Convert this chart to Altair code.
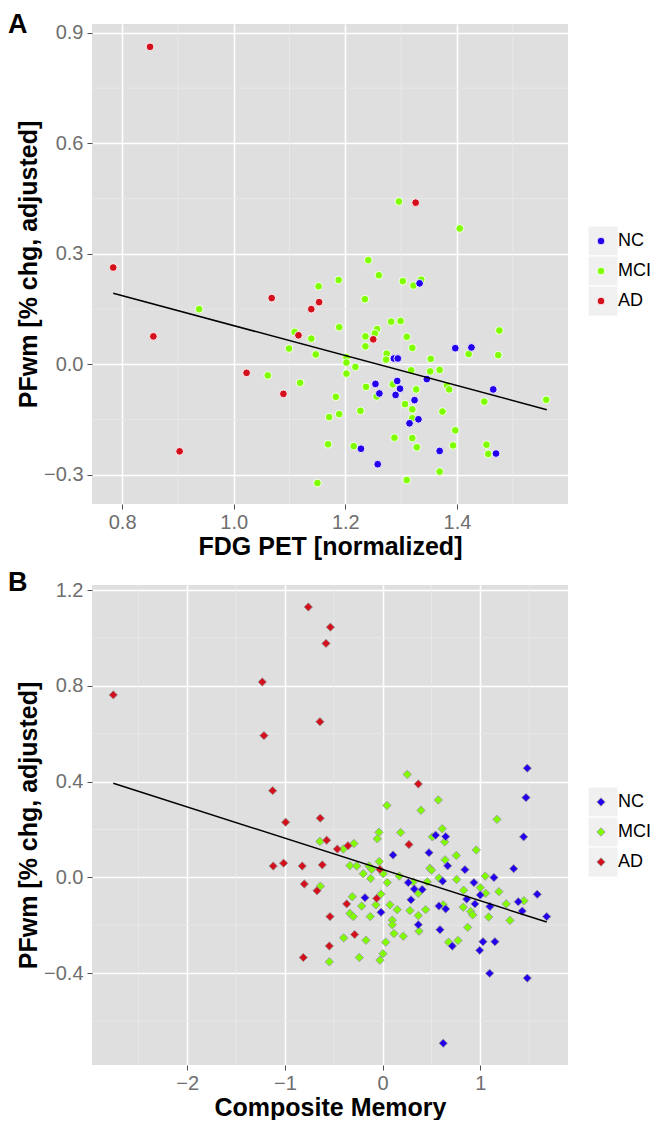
import altair as alt
import pandas as pd

groups = ["NC", "MCI", "AD"]
group_colors = ["#2200EE", "#7FFF00", "#D4101C"]

# ---------------- Panel A: FDG PET ----------------
a_mci_x = [1.296, 1.405, 1.241, 1.260, 1.188, 1.303, 1.322, 1.336, 1.152, 0.938, 1.109, 1.139, 1.099,
           1.147, 1.061, 1.119, 1.171, 1.169, 1.150, 1.235, 1.282, 1.299, 1.189, 1.257, 1.253, 1.476,
           1.236, 1.310, 1.236, 1.320, 1.421, 1.474, 1.274, 1.273, 1.202, 1.202, 1.353, 1.218, 1.318,
           1.352, 1.369, 1.202, 1.285, 1.237, 1.382, 1.386, 1.327, 1.256, 1.183, 1.560, 1.449, 1.307,
           1.320, 1.227, 1.374, 1.189, 1.320, 1.397, 1.288, 1.320, 1.215, 1.328, 1.393, 1.453, 1.456,
           1.369, 1.310]
a_mci_y = [0.442, 0.369, 0.283, 0.242, 0.229, 0.226, 0.214, 0.230, 0.212, 0.150, 0.088, 0.070, 0.043,
           0.027, -0.030, -0.050, -0.143, -0.217, -0.322, 0.177, 0.116, 0.118, 0.101, 0.096, 0.084, 0.092,
           0.076, 0.075, 0.049, 0.045, 0.028, 0.025, 0.029, 0.013, 0.019, 0.005, 0.015, -0.007, -0.016,
           -0.019, -0.015, -0.025, -0.054, -0.061, -0.057, -0.068, -0.068, -0.087, -0.088, -0.096, -0.101, -0.108,
           -0.122, -0.126, -0.128, -0.135, -0.146, -0.179, -0.199, -0.200, -0.222, -0.225, -0.220, -0.218, -0.243,
           -0.291, -0.314]
a_nc_x = [1.333, 1.397, 1.426, 1.287, 1.294, 1.293, 1.346, 1.254, 1.298, 1.465, 1.261, 1.290, 1.324,
          1.331, 1.315, 1.228, 1.369, 1.470, 1.258]
a_nc_y = [0.220, 0.044, 0.046, 0.016, 0.016, -0.045, -0.040, -0.053, -0.066, -0.068, -0.079, -0.083, -0.097,
          -0.149, -0.160, -0.229, -0.235, -0.242, -0.271]
a_ad_x = [0.850, 0.784, 1.326, 1.068, 1.153, 1.139, 1.116, 0.856, 1.023, 1.089, 0.903, 1.250]
a_ad_y = [0.862, 0.263, 0.439, 0.180, 0.169, 0.150, 0.079, 0.076, -0.023, -0.080, -0.236, 0.068]
a_fit_x = [0.784, 1.561]
a_fit_y = [0.193, -0.123]

a_x_ticks = [0.8, 1.0, 1.2, 1.4]
a_y_ticks = [-0.3, 0.0, 0.3, 0.6, 0.9]
a_x_minor = [0.9, 1.1, 1.3, 1.5]
a_y_minor = [-0.15, 0.15, 0.45, 0.75]
a_x_domain = [0.746, 1.599]
a_y_domain = [-0.379, 0.924]

# ---------------- Panel B: Composite Memory ----------------
b_mci_x = [-0.642, 0.252, 0.044, 0.569, 0.392, 1.170, -0.038, -0.055, 0.184, 0.508, 0.610, 0.635, 0.958,
           -0.403, -0.294, 0.754, 0.638, -0.638, -0.546, -0.335, -0.266, -0.140, -0.035, -0.113, -0.199,
           0.006, -0.123, 0.484, 0.500, 0.170, 0.313, 0.047, 0.576, 0.757, 0.457, 1.050, 0.365, 0.829,
           0.999, 1.054, 1.190, -0.311, -0.017, 0.825, 0.901, 0.921, 1.265, 1.446, 1.085, 1.303, -0.215,
           -0.069, 0.075, 0.149, 0.279, 0.440, 0.620, -0.335, -0.301, -0.127, 0.365, 0.099, 0.099, 0.870,
           0.372, 0.116, 0.211, -0.399, -0.171, 0.031, 0.675, 0.771, 0.003, -0.028, -0.239]
b_mci_y = [0.150, 0.430, 0.300, 0.323, 0.280, 0.242, 0.188, 0.161, 0.187, 0.169, 0.203, 0.148, 0.114,
           0.118, 0.141, 0.091, 0.073, -0.037, -0.353, 0.049, 0.047, 0.047, 0.066, 0.033, 0.015,
           0.015, -0.005, 0.038, 0.030, 0.005, -0.019, -0.022, -0.003, -0.009, -0.019, 0.005, -0.067, -0.054,
           -0.043, -0.067, -0.060, -0.081, -0.070, -0.125, -0.143, -0.157, -0.111, -0.098, -0.166, -0.180, -0.120,
           -0.115, -0.115, -0.135, -0.139, -0.135, -0.115, -0.151, -0.164, -0.164, -0.160, -0.179, -0.198, -0.209,
           -0.225, -0.235, -0.246, -0.253, -0.263, -0.271, -0.271, -0.264, -0.319, -0.346, -0.335]
b_nc_x = [1.480, 1.467, 1.443, 0.542, 0.645, 0.106, 0.474, 0.665, 0.842, 1.341, 0.262, 0.614, 0.934,
          1.139, 0.324, 0.405, 0.999, 1.582, -0.181, 0.290, 0.860, 0.945, 1.098, 1.388, 1.429, 1.679,
          -0.017, 0.576, 0.645, 0.365, 0.587, 0.713, 1.027, 1.149, 0.993, 1.095, 1.480, 0.620]
b_nc_y = [0.456, 0.333, 0.169, 0.176, 0.170, 0.093, 0.103, 0.048, 0.032, 0.036, -0.022, -0.016, -0.022,
          -0.001, -0.049, -0.051, -0.074, -0.071, -0.085, -0.094, -0.091, -0.111, -0.122, -0.102, -0.141, -0.164,
          -0.146, -0.120, -0.132, -0.198, -0.219, -0.287, -0.269, -0.269, -0.305, -0.401, -0.421, -0.693]
b_ad_x = [-2.757, -0.761, -0.535, -0.580, -1.232, -0.642, -1.215, -1.126, -0.993, -0.639, -0.573, 0.365,
          0.269, -0.464, -0.355, -1.120, -1.014, -0.823, -0.618, -0.802, -0.672, -0.539, -0.546, -0.812,
          -0.028, -0.061, -0.368, -0.287]
b_ad_y = [0.762, 1.129, 1.045, 0.977, 0.816, 0.650, 0.592, 0.362, 0.230, 0.247, 0.155, 0.390,
          0.137, 0.118, 0.132, 0.047, 0.059, 0.047, 0.052, -0.028, -0.056, -0.164, -0.287, -0.335,
          0.033, -0.088, -0.111, -0.239]
b_fit_x = [-2.757, 1.679]
b_fit_y = [0.393, -0.187]

b_x_ticks = [-2, -1, 0, 1]
b_y_ticks = [-0.4, 0.0, 0.4, 0.8, 1.2]
b_x_minor = [-2.5, -1.5, -0.5, 0.5, 1.5]
b_y_minor = [-0.6, -0.2, 0.2, 0.6, 1.0]
b_x_domain = [-2.975, 1.897]
b_y_domain = [-0.784, 1.221]

FONT = "Liberation Sans"
PANEL_BG = "#DFDFDF"
MINOR = "#EAEAEA"
KEY_BG = "#F0F0F0"
PLOT_W, PLOT_H = 476, 480


def points_frame(parts):
    frames = []
    for xs, ys, g in parts:
        frames.append(pd.DataFrame({"x": xs, "y": ys, "group": g}))
    return pd.concat(frames, ignore_index=True)


def axis(values, fmt, title, label_pad):
    return alt.Axis(values=values, format=fmt, title=title, grid=True, gridColor="white",
                    gridWidth=1.6, domain=False, ticks=True, tickColor="#4D4D4D", tickSize=5,
                    tickWidth=1, labelFont=FONT, labelFontSize=20, labelColor="#6E6E6E",
                    labelPadding=label_pad, titleFont=FONT, titleFontSize=25,
                    titleFontWeight="bold", titleColor="black", titlePadding=2)


def panel(letter, letter_y, pts, fit_x, fit_y, x_ticks, y_ticks, x_minor, y_minor, x_dom, y_dom,
          x_fmt, y_fmt, x_title, y_title, shape, stroke, size):
    xs = alt.Scale(domain=x_dom, nice=False, zero=False)
    ys = alt.Scale(domain=y_dom, nice=False, zero=False)
    xa = axis(x_ticks, x_fmt, x_title, 3)
    ya = axis(y_ticks, y_fmt, y_title, 4)

    minor_x = alt.Chart(pd.DataFrame({"x": x_minor})).mark_rule(
        color=MINOR, strokeWidth=0.8).encode(x=alt.X("x:Q", scale=xs, axis=xa))
    minor_y = alt.Chart(pd.DataFrame({"y": y_minor})).mark_rule(
        color=MINOR, strokeWidth=0.8).encode(y=alt.Y("y:Q", scale=ys, axis=ya))

    keys = []
    for i in range(3):
        keys.append(alt.Chart(pd.DataFrame({"k": [i]})).mark_rect(
            color=KEY_BG, stroke="white", strokeWidth=1).encode(
            x=alt.value(496), x2=alt.value(526),
            y=alt.value(202 + i * 30), y2=alt.value(232 + i * 30)))

    dots = alt.Chart(pts).mark_point(
        shape=shape, filled=True, size=size, stroke=stroke, strokeWidth=0.9, opacity=1
    ).encode(
        x=alt.X("x:Q", scale=xs, axis=xa),
        y=alt.Y("y:Q", scale=ys, axis=ya),
        color=alt.Color("group:N", scale=alt.Scale(domain=groups, range=group_colors),
                        legend=alt.Legend(title=None, orient="none", legendX=500, legendY=208,
                                          labelFont=FONT, labelFontSize=18, labelColor="black",
                                          symbolSize=size, symbolStrokeWidth=0.9,
                                          labelOffset=8, rowPadding=12, padding=0)),
    )

    fit = alt.Chart(pd.DataFrame({"x": fit_x, "y": fit_y})).mark_line(
        color="black", strokeWidth=1.5).encode(
        x=alt.X("x:Q", scale=xs, axis=xa), y=alt.Y("y:Q", scale=ys, axis=ya))

    label = alt.Chart(pd.DataFrame({"t": [letter]})).mark_text(
        font=FONT, fontSize=27, fontWeight="bold", color="black", align="left",
        baseline="top").encode(text="t:N", x=alt.value(-84), y=alt.value(letter_y))

    return alt.layer(minor_x, minor_y, *keys, dots, fit, label).properties(
        width=PLOT_W, height=PLOT_H)


dfA = points_frame([(a_mci_x, a_mci_y, "MCI"), (a_nc_x, a_nc_y, "NC"), (a_ad_x, a_ad_y, "AD")])
dfB = points_frame([(b_mci_x, b_mci_y, "MCI"), (b_nc_x, b_nc_y, "NC"), (b_ad_x, b_ad_y, "AD")])

chartA = panel("A", -12, dfA, a_fit_x, a_fit_y, a_x_ticks, a_y_ticks, a_x_minor, a_y_minor,
               a_x_domain, a_y_domain, ".1f", ".1f", "FDG PET [normalized]",
               "PFwm [% chg, adjusted]", "circle", "white", 60)
chartB = panel("B", -15, dfB, b_fit_x, b_fit_y, b_x_ticks, b_y_ticks, b_x_minor, b_y_minor,
               b_x_domain, b_y_domain, "d", ".1f", "Composite Memory",
               "PFwm [% chg, adjusted]", "diamond", "#9A9A9A", 70)

chart = alt.vconcat(chartA, chartB, spacing=10).resolve_scale(
    color="independent").properties(
    padding={"top": 3, "left": 0, "right": 0, "bottom": 0}, background="white").configure_view(
    fill=PANEL_BG, strokeWidth=0)

chart.save("out.html", embed_options={"renderer": "svg", "actions": False})
